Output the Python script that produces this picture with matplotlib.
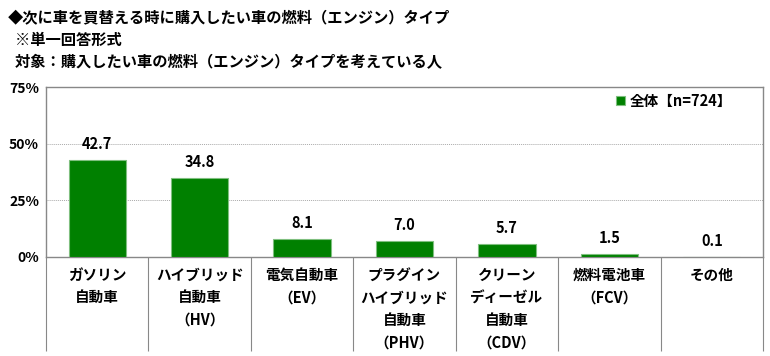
import matplotlib
matplotlib.use("Agg")
import matplotlib.pyplot as plt
import numpy as np

plt.rcParams['font.family'] = ['Noto Sans CJK JP', 'DejaVu Sans']

categories = ["ガソリン\n自動車", "ハイブリッド\n自動車\n（HV）", "電気自動車\n（EV）",
              "プラグイン\nハイブリッド\n自動車\n（PHV）", "クリーン\nディーゼル\n自動車\n（CDV）",
              "燃料電池車\n（FCV）", "その他"]
values = [42.7, 34.8, 8.1, 7.0, 5.7, 1.5, 0.1]
yticks = [0, 25, 50, 75]
legend_label = "全体【n=724】"
title_lines = ["◆次に車を買替える時に購入したい車の燃料（エンジン）タイプ",
               "  ※単一回答形式",
               "  対象：購入したい車の燃料（エンジン）タイプを考えている人"]

fig = plt.figure(figsize=(7.7, 3.56), dpi=100)
ax = fig.add_axes([46/770, 1-257/356, 717/770, 170/356])

x = np.arange(len(values))
ax.bar(x, values, width=0.56, color="#008000", edgecolor="#7fbf7f", linewidth=0.8,
       label=legend_label, zorder=3)
for xi, v in zip(x, values):
    ax.text(xi, v + 3.5, f"{v:.1f}", ha="center", va="bottom", fontsize=10.5,
            fontweight="bold")

ax.set_xlim(-0.5, len(values) - 0.5)
ax.set_ylim(0, 75)
ax.set_yticks(yticks)
ax.set_yticklabels([f"{t}%" for t in yticks], fontsize=10, fontweight="bold")
ax.yaxis.grid(True, color="#aaaaaa", linestyle=(0, (1, 1)), linewidth=0.7, zorder=0)
ax.tick_params(axis="y", length=0, pad=5)

ax.set_xticks(x)
ax.set_xticklabels(categories, fontsize=10.5, fontweight="bold", linespacing=1.5,
                   va="top")
ax.tick_params(axis="x", which="major", length=0, pad=7)
ax.set_xticks(np.arange(len(values) + 1) - 0.5, minor=True)
ax.tick_params(axis="x", which="minor", length=68, color="#888888", width=0.8)

for s in ax.spines.values():
    s.set_color("#888888")
    s.set_linewidth(1.0)

leg = ax.legend(loc="upper right", bbox_to_anchor=(0.975, 1.045), frameon=False,
                prop={"weight": "bold", "size": 10.5}, handlelength=0.6,
                handleheight=0.6, handletextpad=0.3)

for i, line in enumerate(title_lines):
    fig.text(8/770, 1 - (18 + 22*i)/356, line, fontsize=11, fontweight="bold",
             va="center", ha="left")

fig.savefig("out.png", dpi=100)
